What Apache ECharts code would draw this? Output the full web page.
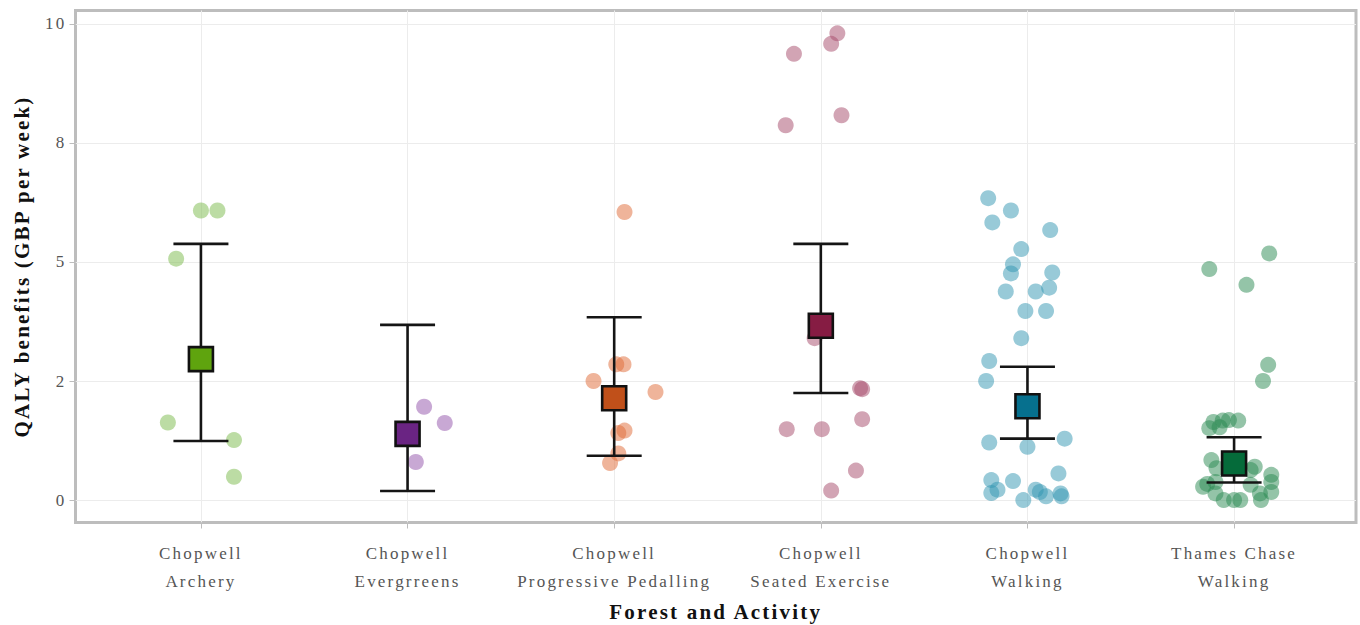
<!DOCTYPE html>
<html>
<head>
<meta charset="utf-8">
<title>QALY benefits by forest and activity</title>
<script src="https://cdn.jsdelivr.net/npm/echarts@6/dist/echarts.min.js"></script>
<style>
  html, body { margin: 0; padding: 0; background: #ffffff; }
  #chart { width: 1360px; height: 625px; }
  /* airy serif lettering for all chart text */
  #chart svg text { letter-spacing: 2.2px; }
</style>
</head>
<body>
<div id="chart"></div>
<script>
// Categories (forest + activity), drawn on two lines
const forests = ['Chopwell', 'Chopwell', 'Chopwell', 'Chopwell', 'Chopwell', 'Thames Chase'];
const activities = ['Archery', 'Evergrreens', 'Progressive Pedalling', 'Seated Exercise', 'Walking', 'Walking'];

// Y tick positions and their printed labels
const yTickValues = [0, 2.5, 5, 7.5, 10];
const yTickLabels = ['0', '2', '5', '8', '10'];

// Individual participant values (GBP per week) and their horizontal jitter
const archeryVals = [6.08, 6.08, 5.07, 1.63, 1.26, 0.49];
const archeryJit = [0.00, 0.08, -0.12, -0.16, 0.16, 0.16];

const evergreensVals = [1.96, 1.62, 0.80];
const evergreensJit = [0.08, 0.18, 0.04];

const pedallingVals = [6.05, 2.85, 2.85, 2.50, 2.27, 1.41, 1.46, 0.98, 0.78];
const pedallingJit = [0.05, 0.01, 0.045, -0.10, 0.20, 0.02, 0.05, 0.02, -0.02];

const seatedVals = [9.80, 9.58, 9.37, 8.08, 7.87, 3.40, 2.35, 2.33, 1.70, 1.49, 1.49, 0.62, 0.20];
const seatedJit = [0.08, 0.05, -0.13, 0.10, -0.17, -0.03, 0.19, 0.20, 0.20, -0.165, 0.005, 0.17, 0.05];

const chopWalkVals = [6.34, 6.08, 5.83, 5.67, 5.27, 4.95, 4.76, 4.78, 4.38, 4.38, 4.46, 3.97, 3.97, 3.40, 2.92,
  2.50, 1.21, 1.12, 1.29, 0.56, 0.42, 0.40, 0.22, 0.15, 0.22, 0.08, 0.14, 0.08, 0.00, 0.17];
const chopWalkJit = [-0.19, -0.08, -0.17, 0.11, -0.03, -0.07, -0.08, 0.12, -0.105, 0.04, 0.105, -0.01, 0.09, -0.03, -0.185,
  -0.20, -0.185, 0.00, 0.18, 0.15, -0.175, -0.07, -0.145, -0.175, 0.04, 0.09, 0.16, 0.165, -0.02, 0.06];

const thamesWalkVals = [5.18, 4.85, 4.52, 2.84, 2.50, 1.64, 1.67, 1.68, 1.67, 1.51, 1.53, 0.84, 0.67, 0.70, 0.63,
  0.53, 0.38, 0.17, 0.34, 0.38, 0.14, 0.00, 0.00, 0.00, 0.32, 0.14, 0.00, 0.28];
const thamesWalkJit = [0.17, -0.12, 0.06, 0.165, 0.14, -0.10, -0.055, -0.025, 0.02, -0.12, -0.07, -0.11, -0.085, 0.10, 0.08,
  0.18, 0.18, 0.18, -0.13, -0.09, -0.09, -0.05, 0.00, 0.03, 0.08, 0.125, 0.13, -0.15];

// Group means with error bar bounds
const meanVals = [2.96, 1.39, 2.14, 3.66, 1.97, 0.77];
const lowerVals = [1.24, 0.19, 0.93, 2.25, 1.29, 0.37];
const upperVals = [5.38, 3.68, 3.84, 5.38, 2.80, 1.32];

// Colours: light (points) and dark (mean markers)
const pointColors = ['#79b949', '#9151a9', '#df6935', '#a54969', '#3195b1', '#298951'];
const meanColors = ['#5fa40e', '#6a2483', '#c0501a', '#861c43', '#06708e', '#056b3a'];

const groups = [
  [archeryVals, archeryJit],
  [evergreensVals, evergreensJit],
  [pedallingVals, pedallingJit],
  [seatedVals, seatedJit],
  [chopWalkVals, chopWalkJit],
  [thamesWalkVals, thamesWalkJit]
];

const catIdx = forests.map((_, i) => i);
const serif = '"Liberation Serif", "DejaVu Serif", serif';

const pointSeries = groups.map(([vals, jit], i) => ({
  type: 'scatter',
  name: forests[i] + ' ' + activities[i],
  z: 2,
  symbol: 'circle',
  symbolSize: 16,
  itemStyle: { color: pointColors[i], opacity: 0.5 },
  emphasis: { disabled: true },
  data: vals.map((v, k) => [i + jit[k], v])
}));

const errorSeries = {
  type: 'custom',
  z: 3,
  data: catIdx.map(i => [i, lowerVals[i], upperVals[i]]),
  renderItem(params, api) {
    const x = api.value(0);
    const pLo = api.coord([x, api.value(1)]);
    const pHi = api.coord([x, api.value(2)]);
    const half = 27.5;
    const style = { stroke: '#151515', lineWidth: 2.6, fill: null };
    return {
      type: 'group',
      children: [
        { type: 'line', shape: { x1: pLo[0], y1: pLo[1], x2: pHi[0], y2: pHi[1] }, style },
        { type: 'line', shape: { x1: pLo[0] - half, y1: pLo[1], x2: pLo[0] + half, y2: pLo[1] }, style },
        { type: 'line', shape: { x1: pHi[0] - half, y1: pHi[1], x2: pHi[0] + half, y2: pHi[1] }, style }
      ]
    };
  }
};

const meanSeries = {
  type: 'scatter',
  z: 4,
  symbol: 'rect',
  symbolSize: 24,
  emphasis: { disabled: true },
  data: catIdx.map(i => ({
    value: [i, meanVals[i]],
    itemStyle: { color: meanColors[i], borderColor: '#111111', borderWidth: 2.6, opacity: 1 }
  }))
};

const chart = echarts.init(document.getElementById('chart'), null, { renderer: 'svg' });
chart.setOption({
  animation: false,
  backgroundColor: '#ffffff',
  grid: {
    left: 75.5, right: 4, top: 10.5, bottom: 102.5,
    outerBoundsMode: 'none',
    containLabel: false,
    show: true, borderColor: '#bdbdbd', borderWidth: 3, backgroundColor: 'transparent'
  },
  xAxis: {
    type: 'value',
    min: -0.607,
    max: 5.59,
    name: 'Forest and Activity',
    nameLocation: 'middle',
    nameGap: 79,
    nameTextStyle: { fontFamily: serif, fontWeight: 'bold', fontSize: 21, color: '#111' },
    axisLine: { show: false, onZero: false },
    axisTick: { show: true, customValues: catIdx, length: 6, lineStyle: { color: '#bdbdbd', width: 1 } },
    axisLabel: {
      customValues: catIdx,
      margin: 17,
      fontFamily: serif,
      fontSize: 17,
      lineHeight: 28,
      color: '#555',
      formatter: v => forests[Math.round(v)] + '\n' + activities[Math.round(v)]
    },
    splitLine: { show: true, lineStyle: { color: '#ececec', width: 1 } }
  },
  yAxis: {
    type: 'value',
    min: -0.47,
    max: 10.28,
    name: 'QALY benefits (GBP per week)',
    nameLocation: 'middle',
    nameGap: 43,
    nameTextStyle: { fontFamily: serif, fontWeight: 'bold', fontSize: 21, color: '#111' },
    axisLine: { show: false, onZero: false },
    axisTick: { show: true, customValues: yTickValues, length: 6, lineStyle: { color: '#bdbdbd', width: 1 } },
    axisLabel: {
      customValues: yTickValues,
      margin: 9,
      fontFamily: serif,
      fontSize: 17,
      color: '#555',
      formatter: v => yTickLabels[yTickValues.indexOf(v)]
    },
    splitLine: { show: true, lineStyle: { color: '#ececec', width: 1 } }
  },
  series: [...pointSeries, errorSeries, meanSeries]
});
</script>
</body>
</html>
